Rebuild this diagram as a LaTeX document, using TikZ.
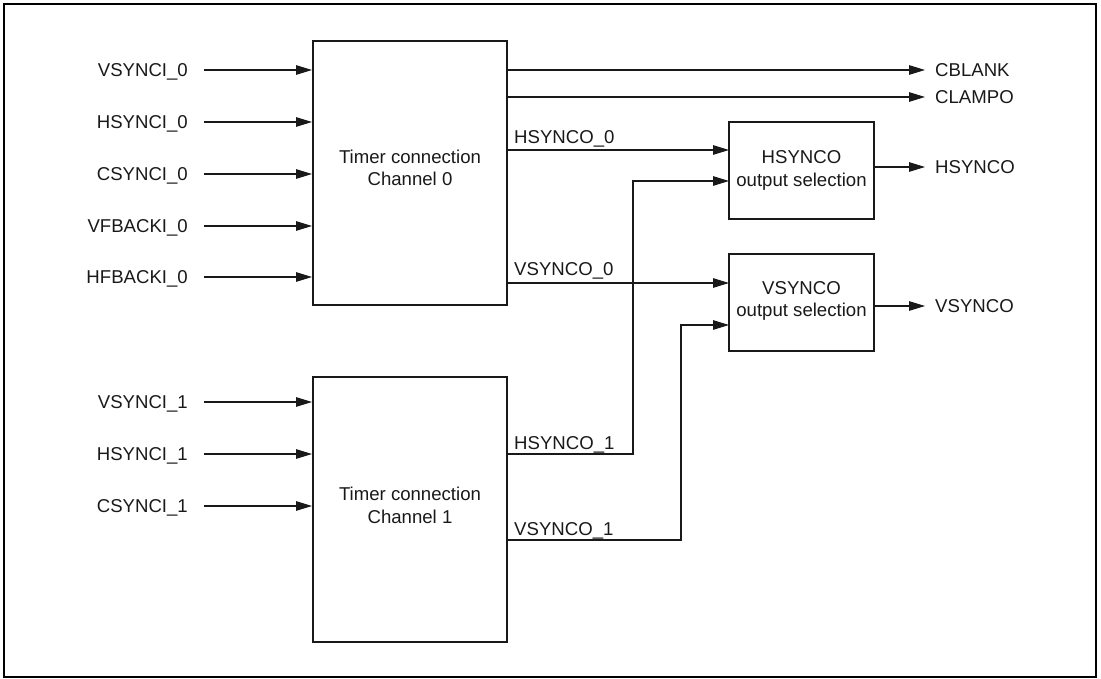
\documentclass[tikz,border=0pt]{standalone}
\usepackage{fontspec}
\setmainfont{Liberation Sans}
\usetikzlibrary{arrows.meta}
\begin{document}
\begin{tikzpicture}[x=1pt,y=-1pt,
  every node/.style={font=\fontsize{18.6}{22.5}\selectfont, inner sep=0pt, text=black!90},
  blk/.style={draw=black!90, line width=2pt, minimum width=#1, inner sep=0pt},
  conn/.style={draw=black!90, line width=1.2pt, -{Triangle[length=16pt,width=9.5pt]}},
  lblin/.style={anchor=base east},
  lblout/.style={anchor=base west},
  blktext/.style={align=center, anchor=center}]
\useasboundingbox (0,0) rectangle (1101,679);
\draw[line width=2pt, black] (4,4) rectangle (1096,677);

% blocks
\node[blk=194pt, minimum height=264pt] (b0) at (410,173) {};
\node[blk=194pt, minimum height=265pt] (b1) at (410,509.5) {};
\node[blk=145pt, minimum height=97pt] (hsel) at (801.5,170.5) {};
\node[blk=145pt, minimum height=97pt] (vsel) at (801.5,302.5) {};

\node[blktext] (t0) at (410,168) {Timer connection\\Channel 0};
\node[blktext] (t1) at (410,505.5) {Timer connection\\Channel 1};
\node[blktext] (th) at (801.5,170.5) {HSYNCO\\output selection};
\node[blktext] (tv) at (801.5,301) {VSYNCO\\output selection};

% inputs channel 0
\foreach \y/\t/\n in {70/VSYNCI\_0/a, 122/HSYNCI\_0/b, 174/CSYNCI\_0/c, 226/VFBACKI\_0/d, 277/HFBACKI\_0/e}{
  \node[lblin] (l\n) at (188,\y+6.6) {\t};
  \coordinate (s\n) at (204,\y);
  \draw[conn] (s\n) -- (s\n -| b0.west);
}
% inputs channel 1
\foreach \y/\t/\n in {402/VSYNCI\_1/f, 454/HSYNCI\_1/g, 506/CSYNCI\_1/h}{
  \node[lblin] (l\n) at (188,\y+6.6) {\t};
  \coordinate (s\n) at (204,\y);
  \draw[conn] (s\n) -- (s\n -| b1.west);
}

% direct outputs
\coordinate (cb) at (925,70);
\coordinate (cl) at (925,97);
\draw[conn] (cb -| b0.east) -- (cb);
\draw[conn] (cl -| b0.east) -- (cl);
\node[lblout] (lcb) at (935,70+6.6) {CBLANK};
\node[lblout] (lcl) at (935,97+6.6) {CLAMPO};

% HSYNCO_0 / VSYNCO_0
\coordinate (h0) at (729,150);
\coordinate (v0) at (729,283);
\draw[conn] (h0 -| b0.east) -- (h0);
\draw[conn] (v0 -| b0.east) -- (v0);
\node[lblout] (lh0) at (514,143.5) {HSYNCO\_0};
\node[lblout] (lv0) at (514,275.5) {VSYNCO\_0};

% HSYNCO_1 / VSYNCO_1
\coordinate (h1) at (633,454);
\coordinate (h1in) at (729,181);
\coordinate (v1) at (681,540);
\coordinate (v1in) at (729,325);
\draw[conn] (h1 -| b1.east) -- (h1) |- (h1in);
\draw[conn] (v1 -| b1.east) -- (v1) |- (v1in);
\node[lblout] (lh1) at (514,449) {HSYNCO\_1};
\node[lblout] (lv1) at (514,535.5) {VSYNCO\_1};

% selection outputs
\coordinate (ho) at (925,167);
\coordinate (vo) at (925,306);
\draw[conn] (ho -| hsel.east) -- (ho);
\draw[conn] (vo -| vsel.east) -- (vo);
\node[lblout] (lho) at (935,167+6.6) {HSYNCO};
\node[lblout] (lvo) at (935,306+6.6) {VSYNCO};
\end{tikzpicture}
\end{document}
